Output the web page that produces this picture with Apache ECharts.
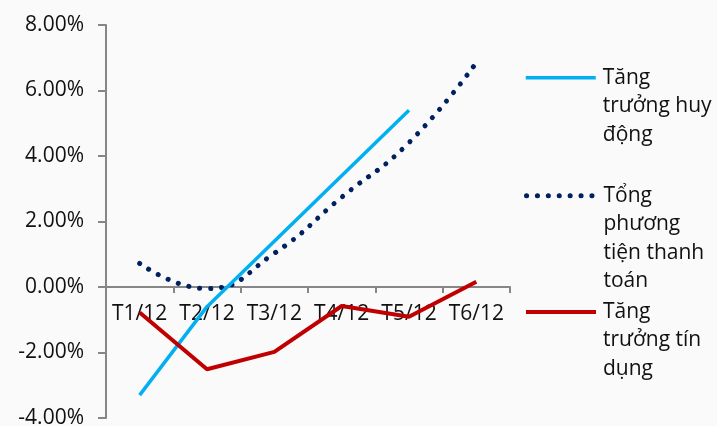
<!DOCTYPE html>
<html>
<head>
<meta charset="utf-8">
<script src="https://cdn.jsdelivr.net/npm/echarts@6/dist/echarts.min.js"></script>
<style>
  html, body { margin: 0; padding: 0; background: #fafafa; }
  #chart { width: 717px; height: 426px; }
</style>
</head>
<body>
<div id="chart"></div>
<script>
// Month labels on the category axis
const categories = ['T1/12', 'T2/12', 'T3/12', 'T4/12', 'T5/12', 'T6/12'];

// Series names and the wrapped text shown in the legend
const seriesNames = ['Tăng trưởng huy động', 'Tổng phương tiện thanh toán', 'Tăng trưởng tín dụng'];
const legendLines = [
  ['Tăng', 'trưởng huy', 'động'],
  ['Tổng', 'phương', 'tiện thanh', 'toán'],
  ['Tăng', 'trưởng tín', 'dụng']
];

// Growth rates in percent (cumulative since start of year)
const huyDong = [-3.30, -0.60, 1.40, 3.40, 5.40, null];
const tongPTTT = [0.72, -0.05, 1.03, 2.74, 4.41, 6.85];
const tinDung = [-0.78, -2.51, -1.98, -0.58, -0.91, 0.16];

// Value axis range and step (percent)
const yMin = -4, yMax = 8, yStep = 2;

const FONT = '"Open Sans", "Noto Sans", sans-serif';
const LH = 28.5;
const legendIconY = [77.7, 195.7, 312];
const lineColors = ['#00B0F0', '#002060', '#C00000'];
const lineWidths = [3.5, 5, 4];

const GRID_TOP = 25, GRID_BOTTOM = 8, CHART_H = 426;
const plotH = CHART_H - GRID_TOP - GRID_BOTTOM;
// Distance from the bottom of the plot up to the zero line
const zeroLift = plotH * (0 - yMin) / (yMax - yMin);

const chart = echarts.init(document.getElementById('chart'), null, { renderer: 'canvas' });

// Leading blank lines keep the first text line level with the legend line
const wrapped = {};
seriesNames.forEach((n, i) => {
  const lines = legendLines[i];
  wrapped[n] = '\n'.repeat(lines.length - 1) + lines.join('\n');
});

const legends = seriesNames.map((name, i) => {
  const n = legendLines[i].length;
  return {
    orient: 'vertical',
    left: 524,
    top: legendIconY[i] - (2 * n - 1) * LH / 2,
    padding: 0,
    itemGap: 0,
    itemWidth: 70,
    itemHeight: 14,
    selectedMode: false,
    formatter: (nm) => wrapped[nm],
    itemStyle: { color: 'rgba(0,0,0,0)', borderWidth: 0, opacity: 0 },
    lineStyle: {
      color: lineColors[i],
      width: lineWidths[i],
      cap: i === 1 ? 'round' : 'butt'
    },
    data: [name],
    textStyle: {
      fontFamily: FONT,
      fontSize: 21,
      lineHeight: LH,
      color: '#111111',
      padding: [0, 0, 0, 2]
    }
  };
});

const option = {
  backgroundColor: '#fafafa',
  animation: false,
  grid: {
    left: 106, right: 207, top: GRID_TOP, bottom: GRID_BOTTOM,
    containLabel: false,
    outerBoundsMode: 'none'
  },
  legend: legends,
  xAxis: {
    type: 'category',
    data: categories,
    boundaryGap: true,
    position: 'bottom',
    offset: -zeroLift,
    axisLine: { onZero: false, lineStyle: { color: '#868686', width: 2 } },
    axisTick: { show: true, length: 6, lineStyle: { color: '#868686', width: 2 } },
    axisLabel: {
      interval: 0,
      hideOverlap: false,
      margin: 17,
      fontFamily: FONT,
      fontSize: 21,
      color: '#111111'
    },
    splitLine: { show: false }
  },
  yAxis: {
    type: 'value',
    min: yMin,
    max: yMax,
    interval: yStep,
    axisLine: { show: true, lineStyle: { color: '#868686', width: 2 } },
    axisTick: { show: true, length: 8, lineStyle: { color: '#868686', width: 2 } },
    axisLabel: {
      margin: 22,
      fontFamily: FONT,
      fontSize: 21,
      color: '#111111',
      formatter: (v) => v.toFixed(2) + '%'
    },
    splitLine: { show: false }
  },
  series: [
    {
      name: seriesNames[0],
      type: 'line',
      data: huyDong,
      symbol: 'none',
      lineStyle: { color: lineColors[0], width: lineWidths[0] },
      itemStyle: { color: lineColors[0] },
      z: 3
    },
    {
      name: seriesNames[1],
      type: 'line',
      data: tongPTTT,
      symbol: 'none',
      smooth: 0.5,
      lineStyle: { color: lineColors[1], width: lineWidths[1], type: [0.1, 10.8], cap: 'round' },
      itemStyle: { color: lineColors[1] },
      z: 2
    },
    {
      name: seriesNames[2],
      type: 'line',
      data: tinDung,
      symbol: 'none',
      lineStyle: { color: lineColors[2], width: lineWidths[2] },
      itemStyle: { color: lineColors[2] },
      z: 4
    }
  ]
};

chart.setOption(option);
</script>
</body>
</html>
